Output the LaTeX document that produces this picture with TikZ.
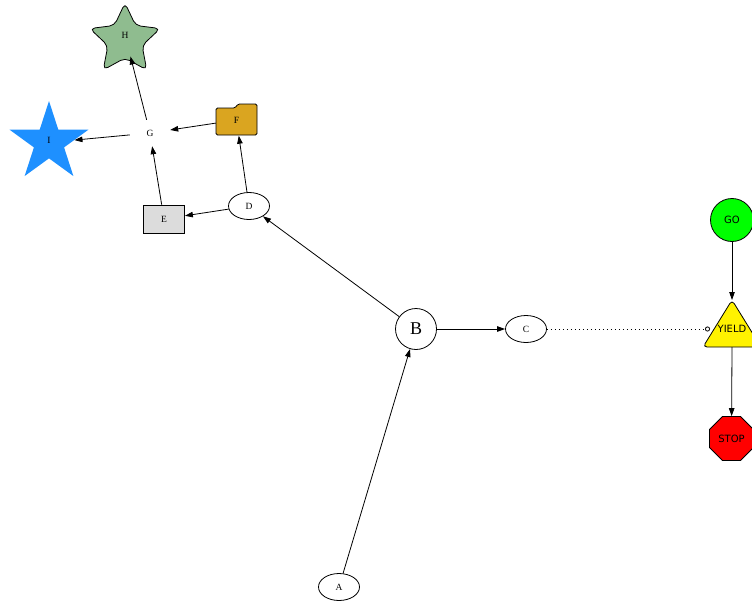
\documentclass[tikz,border=0pt]{standalone}
\usepackage{fontspec}
\setmainfont{Liberation Serif}
\newfontfamily\sansf{DejaVu Sans}
\usetikzlibrary{shapes.geometric,arrows.meta}
\definecolor{gainsboro}{HTML}{DCDCDC}
\definecolor{goldenrod}{HTML}{DAA520}
\definecolor{darkseagreen}{HTML}{8FBC8F}
\definecolor{dodgerblue}{HTML}{1E90FF}
\definecolor{lime}{HTML}{00FF00}
\begin{document}
\begin{tikzpicture}[x=1pt,y=-1pt,
  lbl/.style={font=\fontsize{9.5}{11}\selectfont},
  ell/.style={draw, ellipse, minimum width=41pt, minimum height=27pt, inner sep=0pt, line width=0.8pt, lbl},
  arr/.style={-{Triangle[length=8pt,width=5.5pt]}, line width=0.8pt},
  sig/.style={font=\sansf\fontsize{10}{12}\selectfont},
  shp/.style={draw, line width=0.8pt}
]
\useasboundingbox (0,0) rectangle (752,602);
\clip (0,0) rectangle (752,602);
% shapes drawn directly
\draw[shp, fill=goldenrod, rounded corners=1.5pt] (216,135) -- (216,108) -- (235,108) -- (238,104) -- (257,104) -- (257,135) -- cycle;
\draw[shp, fill=darkseagreen, rounded corners=5pt, shift={(125,40)}]
  (270:37) -- (306:18) -- (342:37) -- (18:18) -- (54:37) -- (90:18) -- (126:37) -- (162:18) -- (198:37) -- (234:18) -- cycle;
\draw[shp, fill=yellow, rounded corners=4pt] (732,300) -- (761,347) -- (703,347) -- cycle;
% nodes
\node[ell] (A) at (339,587) {A};
\node[draw, circle, minimum size=41pt, inner sep=0pt, line width=0.8pt, font=\fontsize{18}{20}\selectfont] (B) at (416,329) {B};
\node[ell] (C) at (526,329) {C};
\node[ell] (D) at (249,206) {D};
\node[shp, fill=gainsboro, minimum width=41pt, minimum height=28pt, inner sep=0pt, lbl] (E) at (164,219) {E};
\node[minimum width=41pt, minimum height=31pt, inner sep=0pt, lbl] (F) at (236.5,120) {F};
\node[minimum width=40pt, minimum height=26pt, inner sep=0pt, lbl] (G) at (150,133) {G};
\node[circle, minimum size=44pt, inner sep=0pt, lbl] (H) at (125,35) {H};
\node[star, star points=5, star point ratio=2.618, minimum size=83pt, inner sep=0pt, fill=dodgerblue, lbl] (I) at (49,142.5) {\raisebox{4pt}{I}};
\node[shp, circle, fill=lime, minimum size=43pt, inner sep=0pt, sig] (GO) at (732,220) {GO};
\node[inner sep=0pt, sig] (YIELD) at (732,329) {YIELD};
\coordinate (Yapex) at (732,300);
\coordinate (Ybase) at (732,347);
\coordinate (Yleft) at (710,329);
\node[shp, regular polygon, regular polygon sides=8, fill=red, minimum size=47.5pt, inner sep=0pt, sig] (STOP) at (731.5,438.5) {STOP};
% edges
\draw[arr] (A) -- (B);
\draw[arr] (B) -- (C);
\draw[arr] (B) -- (D);
\draw[arr] (D) -- (E);
\draw[arr] (D) -- (F);
\draw[arr] (E) -- (G);
\draw[arr] (F) -- (G);
\draw[arr] (G) -- (H);
\draw[arr] (G) -- (I);
\draw[arr] (GO) -- (Yapex);
\draw[arr] (Ybase) -- (STOP);
\draw[line width=0.8pt, dash pattern=on 1pt off 3pt, -{Circle[open,length=5pt,line width=0.8pt]}] (C) -- (Yleft);
\end{tikzpicture}
\end{document}
